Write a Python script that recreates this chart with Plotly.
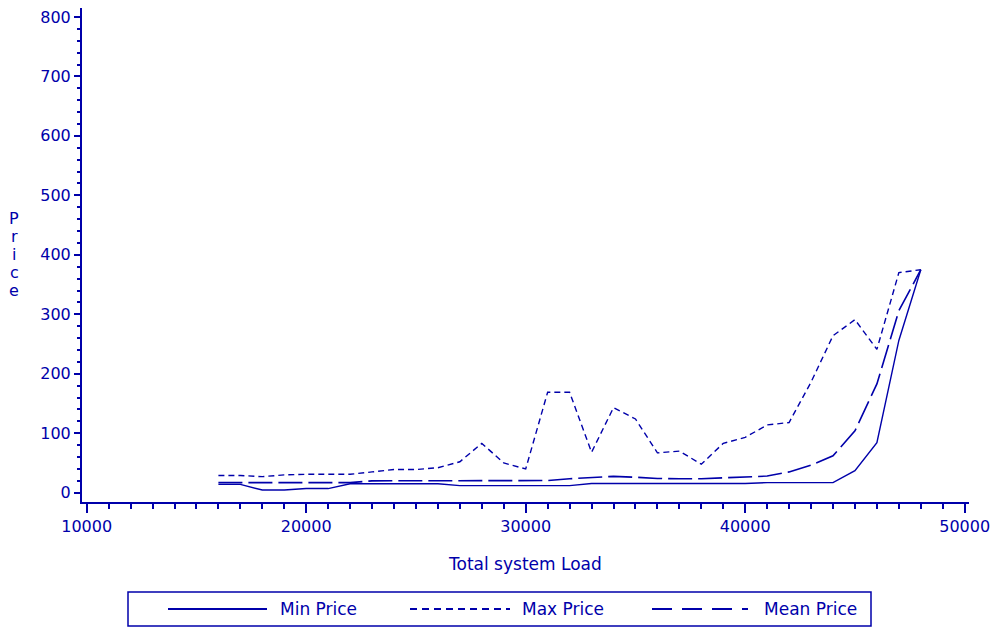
import plotly.graph_objects as go

# ---- data ----
load = [16000, 17000, 18000, 19000, 20000, 21000, 22000, 23000, 24000, 25000,
        26000, 27000, 28000, 29000, 30000, 31000, 32000, 33000, 34000, 35000,
        36000, 37000, 38000, 39000, 40000, 41000, 42000, 43000, 44000, 45000,
        46000, 47000, 48000]
min_price = [14, 14, 4.5, 4.5, 7, 7, 15, 15, 15, 15,
             15, 12, 12, 12, 12, 12, 12, 15.5, 15.5, 15.5,
             15.5, 15, 15.5, 15.5, 15.5, 17, 17, 17, 17, 37,
             84, 256, 375]
max_price = [29, 29, 27, 30, 31, 31, 31, 35, 39, 39,
             42, 52, 83, 50, 40, 169, 169, 68, 143, 124,
             67, 70, 48, 83, 93, 114, 118, 186, 264, 291,
             241, 370, 375]
mean_price = [17, 17, 17, 17, 17, 17, 17, 20, 20, 20,
              20, 20, 20, 20.5, 20.5, 20.5, 23.5, 25, 27.5, 26,
              24, 23.5, 23.5, 25, 26, 28, 35, 46.5, 62, 104,
              183, 306, 375]
series_names = ["Min Price", "Max Price", "Mean Price"]
x_ticks = [10000, 20000, 30000, 40000, 50000]
x_tick_text = ["10000", "20000", "30000", "40000", "50000"]
y_ticks = [0, 100, 200, 300, 400, 500, 600, 700, 800]
y_title = "Price"

C = "#0000AA"
FONT = "DejaVu Sans"
OFF = 8  # page body margin
W, H = 998 - OFF, 628 - OFF
PL, PR, PT, PB = 82, 969, 8, 502  # plot box in screen pixels
L, R, T, B = PL - OFF, 998 - PR, PT - OFF, 628 - PB
PW, PH = PR - PL, PB - PT


def px(x):
    return (x - PL) / PW


def py(y):
    return (PB - y) / PH


styles = [dict(dash="solid", width=1.4),
          dict(dash="6px,4px", width=1.4),
          dict(dash="24px,6px", width=1.6)]
legend_dash = ["solid", "7px,5px", "20px,10px"]

fig = go.Figure()
for name, ys, st in zip(series_names, [min_price, max_price, mean_price], styles):
    fig.add_trace(go.Scatter(x=load, y=ys, mode="lines", name=name,
                             line=dict(color=C, **st), showlegend=False))

axis_common = dict(showline=True, linecolor=C, linewidth=2, ticks="outside",
                   tickcolor=C, tickwidth=2, showgrid=False, zeroline=False,
                   ticklabeloverflow="allow",
                   tickfont=dict(family=FONT, size=16, color=C))

fig.update_xaxes(range=[9786, 50196], tickvals=x_ticks, ticktext=x_tick_text, ticklen=9,
                 minor=dict(dtick=1000, ticklen=5, tickcolor=C, tickwidth=2, ticks="outside", showgrid=False),
                 **axis_common)
fig.update_yaxes(range=[-15.6, 815], tickvals=y_ticks, ticklen=6,
                 minor=dict(dtick=20, ticklen=3, tickcolor=C, tickwidth=2, ticks="outside", showgrid=False),
                 **axis_common)

shapes = []
annotations = []
# legend box
shapes.append(dict(type="rect", xref="paper", yref="paper",
                   x0=px(128), x1=px(871), y0=py(592), y1=py(626),
                   line=dict(color=C, width=1.5)))
legend_items = [(168, 267, 278), (410, 510, 520), (652, 748, 762)]
for (a, b, tx), name, dsh in zip(legend_items, series_names, legend_dash):
    shapes.append(dict(type="line", xref="paper", yref="paper",
                       x0=px(a), x1=px(b), y0=py(609), y1=py(609),
                       line=dict(color=C, width=2, dash=dsh)))
    annotations.append(dict(xref="paper", yref="paper", x=px(tx), y=py(609),
                            text=name, showarrow=False, xanchor="left", yanchor="middle",
                            font=dict(family=FONT, size=17, color=C)))

# axis titles
annotations.append(dict(xref="paper", yref="paper", x=px(525), y=py(564),
                        text="Total system Load", showarrow=False,
                        xanchor="center", yanchor="middle",
                        font=dict(family=FONT, size=17, color=C)))
for i, ch in enumerate(y_title):
    annotations.append(dict(xref="paper", yref="paper", x=px(14), y=py(218 + 18.2 * i),
                            text=ch, showarrow=False,
                            xanchor="center", yanchor="middle",
                            font=dict(family=FONT, size=16, color=C)))

fig.update_layout(width=W, height=H, margin=dict(l=L, r=R, t=T, b=B, pad=0),
                  paper_bgcolor="white", plot_bgcolor="white",
                  shapes=shapes, annotations=annotations, showlegend=False)

fig.write_html("out.html")
